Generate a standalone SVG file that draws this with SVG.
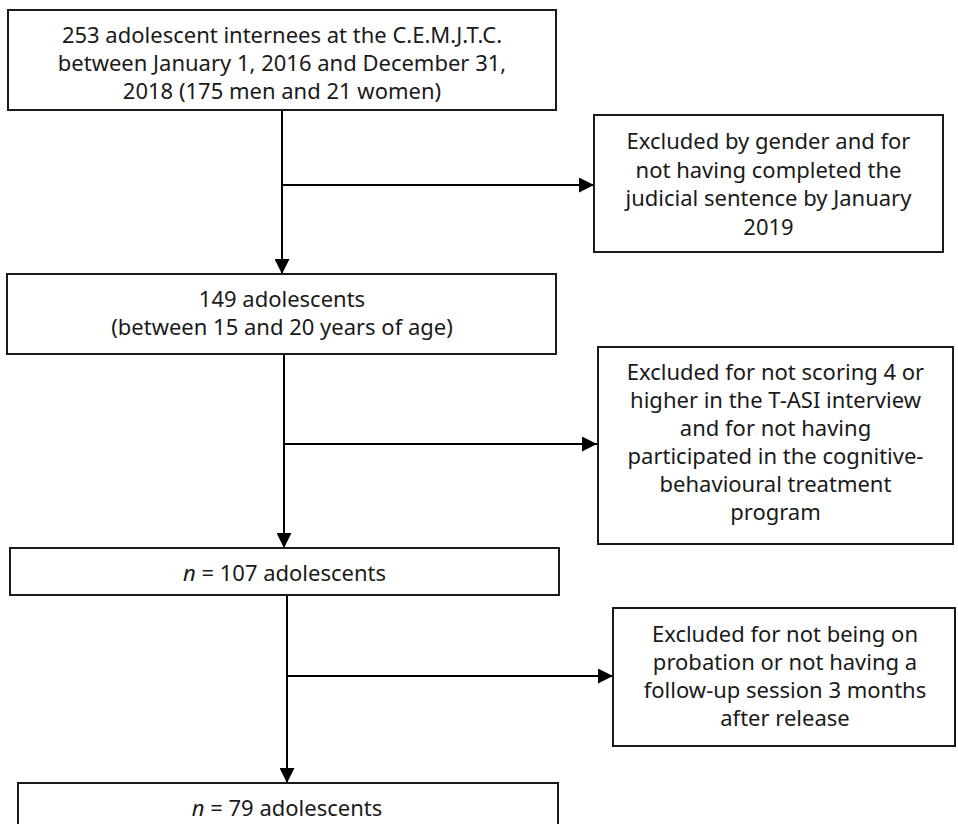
<svg xmlns="http://www.w3.org/2000/svg" width="958" height="824" viewBox="0 0 958 824">
<style>
.box{fill:#fff;stroke:#1a1a1a;stroke-width:2}
.t{font-family:"Noto Sans","Open Sans","Liberation Sans",sans-serif;font-size:22px;fill:#1a1a1a;text-anchor:middle}
.c{stroke:#000;stroke-width:2;fill:none}
</style>
<defs>
<marker id="ah" markerWidth="15" markerHeight="15" refX="15" refY="7.5" orient="auto" markerUnits="userSpaceOnUse">
<path d="M0,0 L15,7.5 L0,15 Z" fill="#000"/>
</marker>
</defs>
<rect width="958" height="824" fill="#fff"/>
<g id="connectors">
<line class="c" x1="282" y1="110" x2="282" y2="274" marker-end="url(#ah)"/>
<line class="c" x1="282" y1="185" x2="594" y2="185" marker-end="url(#ah)"/>
<line class="c" x1="284" y1="354" x2="284" y2="548" marker-end="url(#ah)"/>
<line class="c" x1="284" y1="444" x2="597" y2="444" marker-end="url(#ah)"/>
<line class="c" x1="287" y1="595" x2="287" y2="783" marker-end="url(#ah)"/>
<line class="c" x1="287" y1="676" x2="613" y2="676" marker-end="url(#ah)"/>
</g>
<g id="n1">
<rect class="box" x="8" y="10" width="548" height="100"/>
<text class="t" x="282" y="43">253 adolescent internees at the C.E.M.J.T.C.</text>
<text class="t" x="282" y="71">between January 1, 2016 and December 31,</text>
<text class="t" x="282" y="99">2018 (175 men and 21 women)</text>
</g>
<g id="x1">
<rect class="box" x="594" y="115" width="349" height="137"/>
<text class="t" x="768.5" y="149">Excluded by gender and for</text>
<text class="t" x="768.5" y="177.5">not having completed the</text>
<text class="t" x="768.5" y="206">judicial sentence by January</text>
<text class="t" x="768.5" y="234.5">2019</text>
</g>
<g id="n2">
<rect class="box" x="7" y="274" width="549" height="80"/>
<text class="t" x="282" y="307">149 adolescents</text>
<text class="t" x="282" y="335">(between 15 and 20 years of age)</text>
</g>
<g id="x2">
<rect class="box" x="598" y="347" width="355" height="197"/>
<text class="t" x="775.5" y="380">Excluded for not scoring 4 or</text>
<text class="t" x="775.5" y="408">higher in the T-ASI interview</text>
<text class="t" x="775.5" y="436">and for not having</text>
<text class="t" x="775.5" y="464">participated in the cognitive-</text>
<text class="t" x="775.5" y="492">behavioural treatment</text>
<text class="t" x="775.5" y="520">program</text>
</g>
<g id="n3">
<rect class="box" x="10" y="548" width="549" height="47"/>
<text class="t" x="284.5" y="581"><tspan font-style="italic">n</tspan> = 107 adolescents</text>
</g>
<g id="x3">
<rect class="box" x="613" y="608" width="342" height="138"/>
<text class="t" x="785" y="642">Excluded for not being on</text>
<text class="t" x="785" y="670">probation or not having a</text>
<text class="t" x="785" y="698">follow-up session 3 months</text>
<text class="t" x="785" y="726">after release</text>
</g>
<g id="n4">
<rect class="box" x="18" y="783" width="540" height="60"/>
<text class="t" x="287" y="816"><tspan font-style="italic">n</tspan> = 79 adolescents</text>
</g>
</svg>
